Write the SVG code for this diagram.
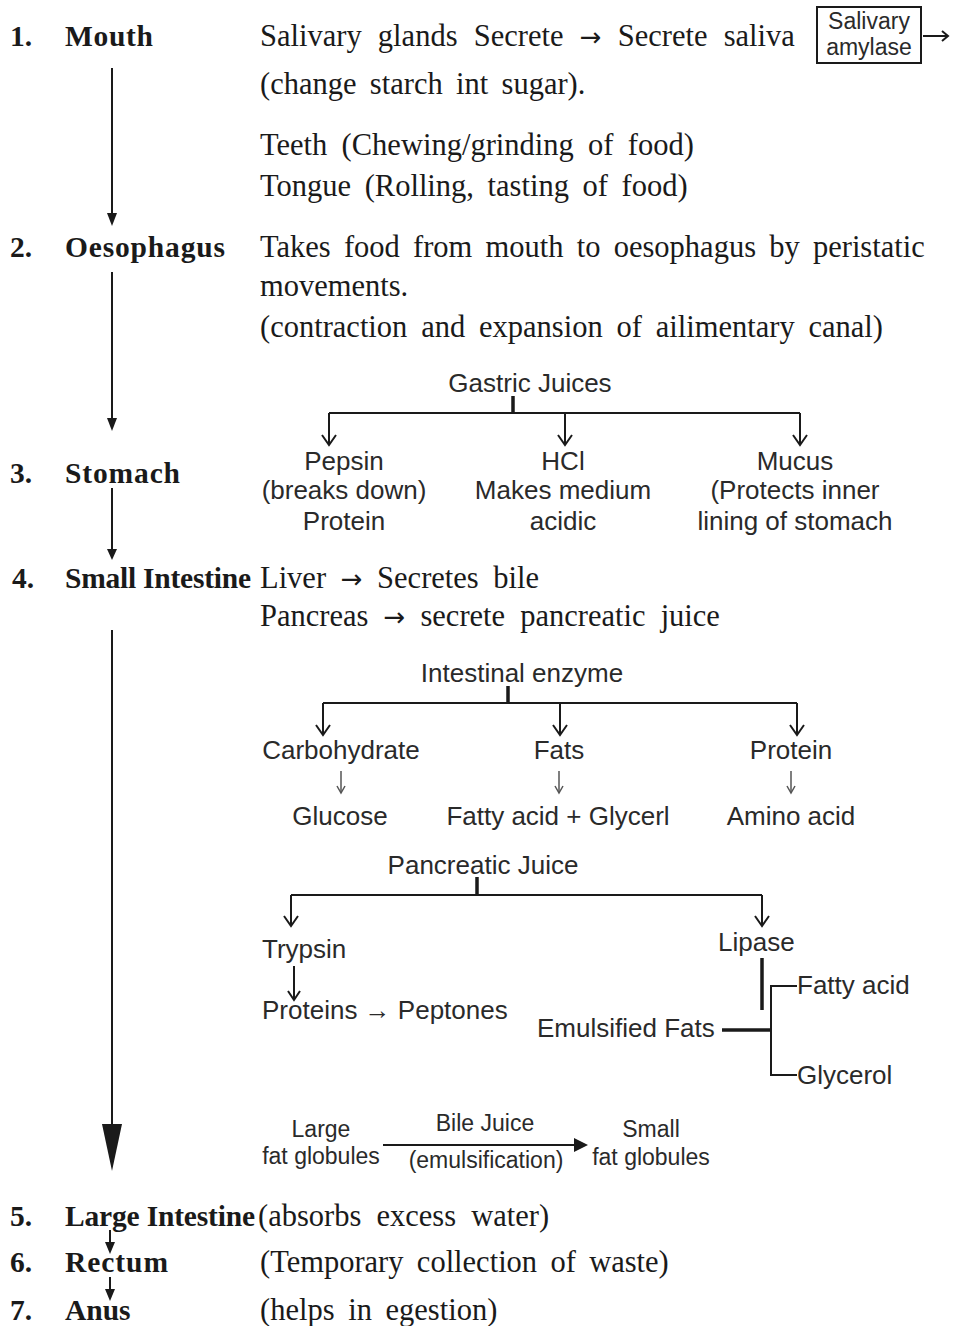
<svg xmlns="http://www.w3.org/2000/svg" width="954" height="1326" viewBox="0 0 954 1326">
<style>
.b{font-family:"Liberation Serif","Times New Roman",serif;font-weight:bold;font-size:29.5px;fill:#1a1a1a}
.s{font-family:"Liberation Serif","Times New Roman",serif;font-size:30.5px;fill:#1a1a1a;word-spacing:6px}
.ar{font-family:"DejaVu Sans",sans-serif;font-size:26px}
.a{font-family:"Liberation Sans",Arial,sans-serif;font-size:26px;fill:#2a2a2a}
.m{text-anchor:middle}
.sm{font-size:23px}
.ln{stroke:#1a1a1a;stroke-width:2;fill:none}
.tk{stroke:#1a1a1a;stroke-width:3.5;fill:none}
.hd{fill:#1a1a1a}
.gr{stroke:#555;stroke-width:1.5;fill:none}
</style>
<rect width="954" height="1326" fill="#ffffff"/>
<g id="mouth">
<text class="b" x="10" y="46">1.</text>
<text class="b" x="65" y="46" textLength="88" lengthAdjust="spacing">Mouth</text>
<text class="s" x="260" y="46" style="word-spacing:8.6px">Salivary glands Secrete <tspan class="ar">→</tspan> Secrete saliva</text>
<rect x="817" y="7" width="104" height="56" fill="none" stroke="#1a1a1a" stroke-width="2"/>
<text class="a m sm" x="869" y="29">Salivary</text>
<text class="a m sm" x="869" y="55">amylase</text>
<text class="s" x="260" y="94" style="word-spacing:5.7px">(change starch int sugar).</text>
<text class="s" x="260" y="155" style="word-spacing:6.7px">Teeth (Chewing/grinding of food)</text>
<text class="s" x="260" y="196">Tongue (Rolling, tasting of food)</text>
</g>
<g id="oesophagus">
<text class="b" x="10" y="257">2.</text>
<text class="b" x="65" y="257" textLength="160" lengthAdjust="spacing">Oesophagus</text>
<text class="s" x="260" y="257" style="word-spacing:5.6px">Takes food from mouth to oesophagus by peristatic</text>
<text class="s" x="260" y="296">movements.</text>
<text class="s" x="260" y="337" style="word-spacing:6.2px">(contraction and expansion of ailimentary canal)</text>
</g>
<g id="stomach">
<text class="b" x="10" y="483">3.</text>
<text class="b" x="65" y="483" textLength="115" lengthAdjust="spacing">Stomach</text>
<text class="a m" x="530" y="392">Gastric Juices</text>
<text class="a m" x="344" y="470">Pepsin</text>
<text class="a m" x="344" y="499">(breaks down)</text>
<text class="a m" x="344" y="530">Protein</text>
<text class="a m" x="563" y="470">HCl</text>
<text class="a m" x="563" y="499">Makes medium</text>
<text class="a m" x="563" y="530">acidic</text>
<text class="a m" x="795" y="470">Mucus</text>
<text class="a m" x="795" y="499">(Protects inner</text>
<text class="a m" x="795" y="530">lining of stomach</text>
</g>
<g id="small-intestine">
<text class="b" x="12" y="588">4.</text>
<text class="b" x="65" y="588" textLength="186" lengthAdjust="spacing">Small Intestine</text>
<text class="s" x="260" y="588" style="word-spacing:7px">Liver <tspan class="ar">→</tspan> Secretes bile</text>
<text class="s" x="260" y="626" style="word-spacing:7.5px">Pancreas <tspan class="ar">→</tspan> secrete pancreatic juice</text>
<text class="a m" x="522" y="682">Intestinal enzyme</text>
<text class="a m" x="341" y="759">Carbohydrate</text>
<text class="a m" x="340" y="825">Glucose</text>
<text class="a m" x="559" y="759">Fats</text>
<text class="a m" x="558" y="825">Fatty acid + Glycerl</text>
<text class="a m" x="791" y="759">Protein</text>
<text class="a m" x="791" y="825">Amino acid</text>
<text class="a m" x="483" y="874">Pancreatic Juice</text>
<text class="a" x="262" y="958">Trypsin</text>
<text class="a" x="262" y="1019">Proteins → Peptones</text>
<text class="a" x="718" y="951">Lipase</text>
<text class="a" x="797" y="994">Fatty acid</text>
<text class="a" x="537" y="1037">Emulsified Fats</text>
<text class="a" x="797" y="1084">Glycerol</text>
<text class="a m sm" x="321" y="1137">Large</text>
<text class="a m sm" x="321" y="1164">fat globules</text>
<text class="a m sm" x="485" y="1131">Bile Juice</text>
<text class="a m sm" x="486" y="1168">(emulsification)</text>
<text class="a m sm" x="651" y="1137">Small</text>
<text class="a m sm" x="651" y="1165">fat globules</text>
</g>
<g id="large-intestine">
<text class="b" x="10" y="1226">5.</text>
<text class="b" x="65" y="1226" textLength="190" lengthAdjust="spacing">Large Intestine</text>
<text class="s" x="258" y="1226" style="word-spacing:7.5px">(absorbs excess water)</text>
</g>
<g id="rectum">
<text class="b" x="10" y="1272">6.</text>
<text class="b" x="65" y="1272" textLength="103" lengthAdjust="spacing">Rectum</text>
<text class="s" x="260" y="1272" style="word-spacing:5.7px">(Temporary collection of waste)</text>
</g>
<g id="anus">
<text class="b" x="10" y="1320">7.</text>
<text class="b" x="65" y="1320">Anus</text>
<text class="s" x="260" y="1320">(helps in egestion)</text>
</g>
<g id="connectors">
<line class="ln" x1="112" y1="68" x2="112" y2="214"/>
<polygon class="hd" points="107,213 117,213 112,226"/>
<line class="ln" x1="112" y1="272" x2="112" y2="419"/>
<polygon class="hd" points="107,418 117,418 112,431"/>
<line class="ln" x1="112" y1="488" x2="112" y2="550"/>
<polygon class="hd" points="107,549 117,549 112,560"/>
<line class="ln" x1="112" y1="630" x2="112" y2="1126"/>
<polygon class="hd" points="102,1124 122,1124 112,1171"/>
<line class="ln" x1="110" y1="1230" x2="110" y2="1244"/>
<polygon class="hd" points="105,1242 115,1242 110,1254"/>
<line class="ln" x1="110" y1="1277" x2="110" y2="1291"/>
<polygon class="hd" points="105,1289 115,1289 110,1301"/>
<line class="ln" x1="923" y1="36" x2="948" y2="36"/>
<polyline class="ln" points="942,31 948,36 942,41"/>
<line class="tk" x1="513" y1="396" x2="513" y2="413"/>
<line class="ln" x1="329" y1="413" x2="800" y2="413"/>
<path class="ln" d="M329 413V444M565 413V444M800 413V444"/>
<path class="ln" d="M322 435L329 445L336 435M558 435L565 445L572 435M793 435L800 445L807 435"/>
<line class="tk" x1="508" y1="686" x2="508" y2="703"/>
<line class="ln" x1="323" y1="703" x2="797" y2="703"/>
<path class="ln" d="M323 703V734M560 703V734M797 703V734"/>
<path class="ln" d="M316 725L323 735L330 725M553 725L560 735L567 725M790 725L797 735L804 725"/>
<path class="gr" d="M341 771V792M559 771V792M791 771V792"/>
<path class="gr" d="M337 786L341 793L345 786M555 786L559 793L563 786M787 786L791 793L795 786"/>
<line class="tk" x1="477" y1="877" x2="477" y2="895"/>
<line class="ln" x1="291" y1="895" x2="762" y2="895"/>
<path class="ln" d="M291 895V925M762 895V925"/>
<path class="ln" d="M284 916L291 926L298 916M755 916L762 926L769 916"/>
<line class="ln" x1="294" y1="966" x2="294" y2="999"/>
<path class="ln" d="M288 991L294 1000L300 991"/>
<line class="tk" x1="762" y1="958" x2="762" y2="1010"/>
<path class="ln" d="M797 986H771V1075H797"/>
<line class="tk" x1="722" y1="1030" x2="771" y2="1030"/>
<line class="ln" x1="383" y1="1145" x2="576" y2="1145"/>
<polygon class="hd" points="574,1138 588,1145 574,1152"/>
</g>
</svg>
